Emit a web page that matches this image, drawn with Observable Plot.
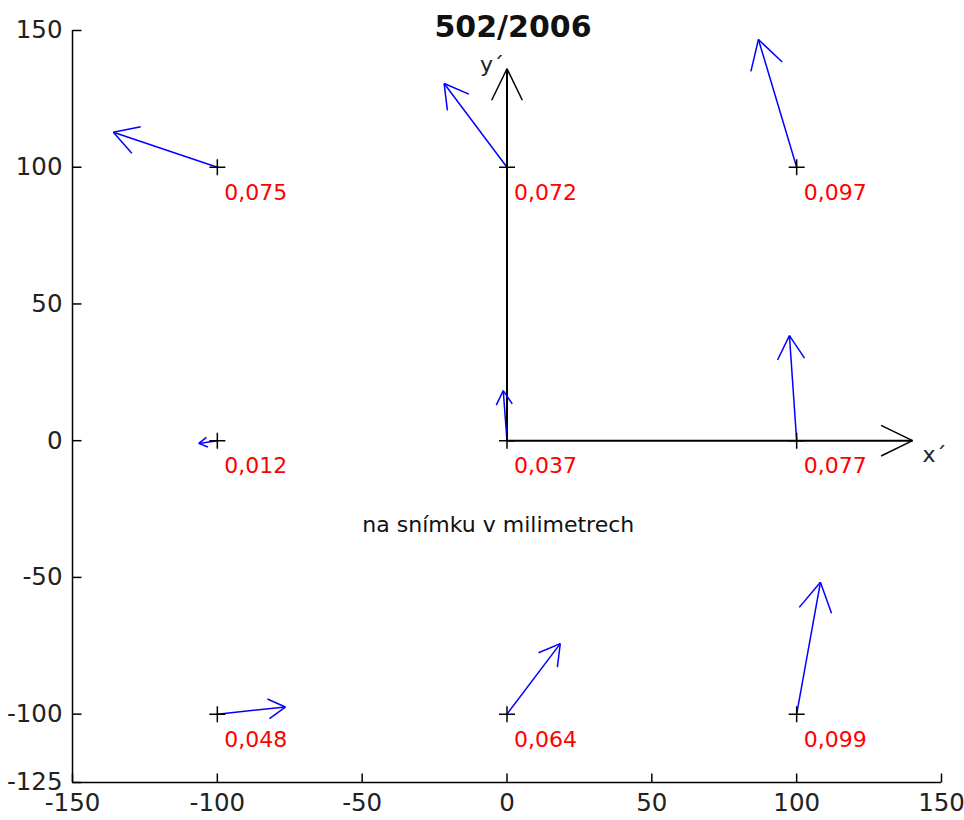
<!DOCTYPE html>
<html>
<head>
<meta charset="utf-8">
<script src="https://cdn.jsdelivr.net/npm/d3@7"></script>
<script src="https://cdn.jsdelivr.net/npm/@observablehq/plot@0.6"></script>
<style>
  body { margin: 0; background: #ffffff; }
  #chart svg { display: block; }
</style>
</head>
<body>
<div id="chart"></div>
<script>
// ---- data ----
const title = "502/2006";
const pointX = [-100, 0, 100, -100, 0, 100, -100, 0, 100];
const pointY = [100, 100, 100, 0, 0, 0, -100, -100, -100];
const shiftU = [-35.9, -21.7, -13.2, -6.4, -1.3, -2.5, 23.5, 18.4, 8.2];
const shiftV = [12.8, 30.6, 46.7, -1.0, 18.3, 38.4, 2.6, 25.8, 48.2];
const shiftLabels = ["0,075", "0,072", "0,097", "0,012", "0,037", "0,077", "0,048", "0,064", "0,099"];
const xTicks = [-150, -100, -50, 0, 50, 100, 150];
const yTicks = [-125, -100, -50, 0, 50, 100, 150];
const xDomain = [-150, 150];
const yDomain = [-125, 150];
const frameAxes = [
  {name: "x´", x2: 140, y2: 0},
  {name: "y´", x2: 0, y2: 136}
];
const note = {text: "na snímku v milimetrech", x: -3, y: -31};

// ---- layout ----
const W = 964, H = 820, ML = 72, MR = 23, MT = 30, MB = 38;
const kx = (W - ML - MR) / (xDomain[1] - xDomain[0]);
const ky = (H - MT - MB) / (yDomain[1] - yDomain[0]);
const FONT = "DejaVu Sans";

// arrowhead wings computed in pixel space, returned in data units
function wings(x0, y0, x1, y1, headFn, angleDeg) {
  const px = (x1 - x0) * kx, py = -(y1 - y0) * ky;
  const L = Math.hypot(px, py);
  const h = headFn(L);
  const bx = -px / L, by = -py / L;
  const a = angleDeg * Math.PI / 180;
  return [-a, a].map(t => {
    const wx = (bx * Math.cos(t) - by * Math.sin(t)) * h;
    const wy = (bx * Math.sin(t) + by * Math.cos(t)) * h;
    return {x1, y1, x2: x1 + wx / kx, y2: y1 - wy / ky};
  });
}

const pts = pointX.map((x, i) => ({
  x, y: pointY[i], x2: x + shiftU[i], y2: pointY[i] + shiftV[i], label: shiftLabels[i]
}));
const quiverHeads = pts.flatMap(d => wings(d.x, d.y, d.x2, d.y2, L => 6 + 0.2 * L, 30));
const axisShafts = frameAxes.map(a => ({x1: 0, y1: 0, x2: a.x2, y2: a.y2, name: a.name}));
const axisHeads = axisShafts.flatMap(d => wings(d.x1, d.y1, d.x2, d.y2, () => 35, 26));

const xTickLinks = xTicks.map(t => ({x1: t, y1: yDomain[0], x2: t, y2: yDomain[0] + 9 / ky}));
const yTickLinks = yTicks.map(t => ({x1: xDomain[0], y1: t, x2: xDomain[0] + 9 / kx, y2: t}));

const plusSymbol = {
  draw(context, size) {
    const r = Math.sqrt(size / Math.PI);
    context.moveTo(-r, 0); context.lineTo(r, 0);
    context.moveTo(0, -r); context.lineTo(0, r);
  }
};

const chart = Plot.plot({
  width: W,
  height: H,
  marginLeft: ML,
  marginRight: MR,
  marginTop: MT,
  marginBottom: MB,
  style: {fontFamily: FONT, background: "#ffffff", color: "black", overflow: "visible"},
  x: {domain: xDomain, axis: null},
  y: {domain: yDomain, axis: null},
  marks: [
    // axes lines
    Plot.ruleX([xDomain[0]], {stroke: "black", strokeWidth: 1.5}),
    Plot.ruleY([yDomain[0]], {stroke: "black", strokeWidth: 1.5}),
    Plot.link(xTickLinks, {x1: "x1", y1: "y1", x2: "x2", y2: "y2", stroke: "black", strokeWidth: 1.5}),
    Plot.link(yTickLinks, {x1: "x1", y1: "y1", x2: "x2", y2: "y2", stroke: "black", strokeWidth: 1.5}),
    Plot.axisX(xTicks, {anchor: "bottom", tickSize: 0, tickPadding: 11, fontSize: 24.5, tickFormat: d => String(d), label: null, fill: "#222"}),
    Plot.axisY(yTicks, {anchor: "left", tickSize: 0, tickPadding: 10, fontSize: 24.5, tickFormat: d => String(d), label: null, fill: "#222"}),
    // x´ / y´ frame
    Plot.link(axisShafts, {x1: "x1", y1: "y1", x2: "x2", y2: "y2", stroke: "black", strokeWidth: 2}),
    Plot.link(axisHeads, {x1: "x1", y1: "y1", x2: "x2", y2: "y2", stroke: "black", strokeWidth: 1.5}),
    Plot.text(axisShafts.filter(d => d.name === "x´"), {x: "x2", y: "y2", text: "name", textAnchor: "start", lineAnchor: "top", dx: 10, dy: 6, fontSize: 22, fill: "#222"}),
    Plot.text(axisShafts.filter(d => d.name === "y´"), {x: "x2", y: "y2", text: "name", textAnchor: "end", lineAnchor: "top", dx: -3, dy: -12, fontSize: 22, fill: "#222"}),
    // shift vectors
    Plot.link(pts, {x1: "x", y1: "y", x2: "x2", y2: "y2", stroke: "#0000ff", strokeWidth: 1.5}),
    Plot.link(quiverHeads, {x1: "x1", y1: "y1", x2: "x2", y2: "y2", stroke: "#0000ff", strokeWidth: 1.5}),
    // points
    Plot.dot(pts, {x: "x", y: "y", r: 8, symbol: plusSymbol, stroke: "black", strokeWidth: 1.5, fill: "none"}),
    // labels
    Plot.text(pts, {x: "x", y: "y", text: "label", textAnchor: "start", lineAnchor: "top", dx: 7, dy: 17, fontSize: 22, fill: "#ff0000"}),
    // note
    Plot.text([note], {x: "x", y: "y", text: "text", textAnchor: "middle", lineAnchor: "middle", fontSize: 22, fill: "#111"}),
    // title
    Plot.text([title], {frameAnchor: "top", text: d => d, lineAnchor: "top", dy: -15, dx: 6, fontSize: 30, fontWeight: "bold", fill: "#111"})
  ]
});

document.getElementById("chart").appendChild(chart);
</script>
</body>
</html>
